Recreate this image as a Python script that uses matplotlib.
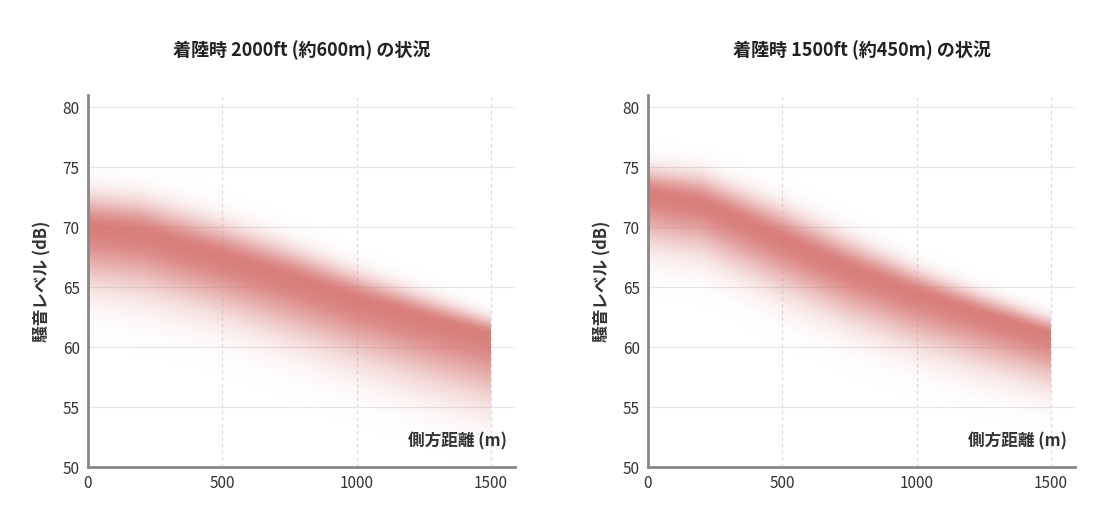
import numpy as np
import matplotlib.pyplot as plt
from matplotlib.colors import to_rgb

plt.rcParams["font.family"] = "Noto Sans CJK JP"

titles = ["着陸時 2000ft (約600m) の状況", "着陸時 1500ft (約450m) の状況"]
dist = [0, 200, 500, 750, 1000, 1250, 1500]
center_2000 = [70.0, 69.5, 67.5, 65.8, 64.0, 62.4, 61.0]
upper_2000 = [73.5, 73.0, 71.0, 69.0, 66.8, 64.8, 62.8]
lower_2000 = [64.0, 63.3, 61.5, 59.5, 57.5, 55.7, 54.0]
center_1500 = [72.8, 72.0, 69.0, 66.5, 64.5, 62.7, 61.0]
upper_1500 = [75.5, 75.0, 72.3, 69.6, 67.0, 64.8, 62.8]
lower_1500 = [67.5, 66.8, 63.5, 61.0, 59.0, 57.3, 55.8]
panels = [(center_2000, upper_2000, lower_2000), (center_1500, upper_1500, lower_1500)]

color = to_rgb("#d4706c")

fig = plt.figure(figsize=(11.12, 5.32), dpi=100)
axes = [fig.add_axes([88/1112, 65/532, 427/1112, 372/532]),
        fig.add_axes([648/1112, 65/532, 427/1112, 372/532])]

for ax, title, (c, up, lo) in zip(axes, titles, panels):
    ax.set_xlim(0, 1590)
    ax.set_ylim(50, 81)
    xs = np.linspace(0, 1500, 400)
    ys = np.linspace(50, 81, 500)
    cc = np.interp(xs, dist, c)
    su = (np.interp(xs, dist, up) - cc) / 2.0
    sl = (cc - np.interp(xs, dist, lo)) / 2.0
    Y, _ = np.meshgrid(ys, xs, indexing="ij")
    d = Y - cc[None, :]
    s = np.where(d > 0, su[None, :], sl[None, :])
    alpha = np.exp(-0.5 * (d / s) ** 2) * 0.9
    img = np.zeros((len(ys), len(xs), 4))
    img[..., :3] = color
    img[..., 3] = alpha
    ax.imshow(img, extent=[0, 1500, 50, 81], origin="lower", aspect="auto",
              interpolation="bilinear", zorder=2)

    ax.set_yticks(range(50, 81, 5))
    ax.set_xticks([0, 500, 1000, 1500])
    for y in range(55, 81, 5):
        ax.axhline(y, color="#e6e6e6", lw=0.8, zorder=0)
    for x in [500, 1000, 1500]:
        ax.axvline(x, color="#d8d8d8", lw=0.8, ls=(0, (3, 3)), zorder=0)
    for sp in ["top", "right"]:
        ax.spines[sp].set_visible(False)
    for sp in ["left", "bottom"]:
        ax.spines[sp].set_color("#888888")
        ax.spines[sp].set_linewidth(2)
    ax.tick_params(length=0, labelsize=11, colors="#333333", pad=6)
    ax.set_ylabel("騒音レベル (dB)", fontsize=12, fontweight="bold", color="#333333", labelpad=8)
    ax.text(0.98, 0.045, "側方距離 (m)", transform=ax.transAxes, ha="right", va="bottom",
            fontsize=12, fontweight="bold", color="#333333")
    ax.set_title(title, fontsize=13, fontweight="bold", color="#222222", pad=28)

fig.savefig("out.png")
